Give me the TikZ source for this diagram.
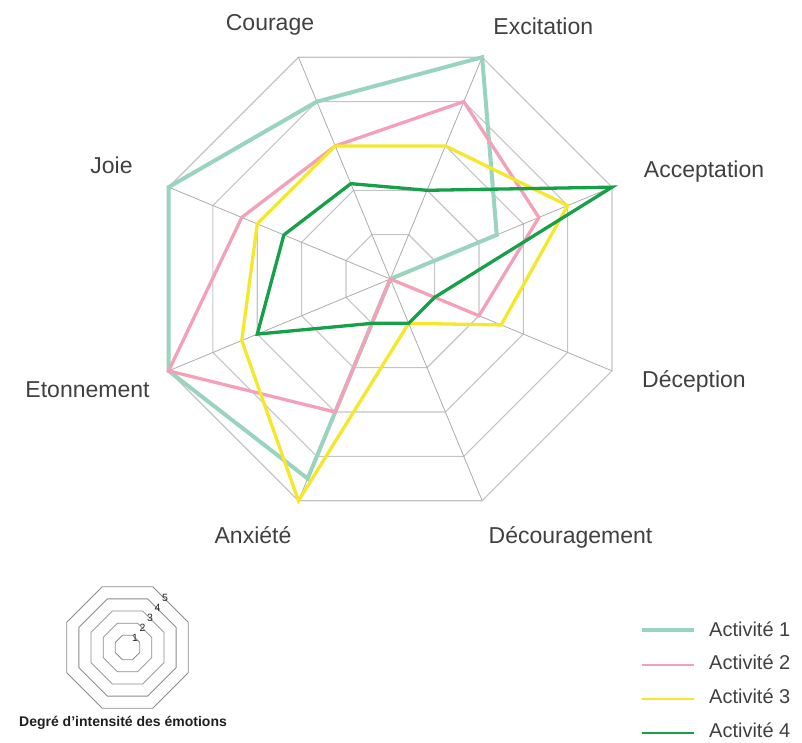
\documentclass[tikz,border=0pt]{standalone}
\usepackage{fontspec}
\setmainfont{Liberation Sans}
\definecolor{cA}{HTML}{98D4BE}
\definecolor{cB}{HTML}{F4A0B9}
\definecolor{cC}{HTML}{F5E72B}
\definecolor{cD}{HTML}{15A049}
\definecolor{labc}{HTML}{404040}
\definecolor{ringc}{HTML}{C4C4C4}
\definecolor{spokec}{HTML}{ACACAC}
\begin{document}
\begin{tikzpicture}[x=1pt,y=1pt,
  gridring/.style={draw=ringc, line width=1.1pt},
  gridspoke/.style={draw=spokec, line width=0.8pt},
  serie/.style={line width=3.3pt, line join=miter},
  lab/.style={font=\fontsize{23}{27}\selectfont, text=labc, inner sep=0pt, anchor=base},
  leglab/.style={font=\fontsize{20}{24}\selectfont, text=labc, inner sep=0pt, anchor=base west},
  iconring/.style={draw=black!45, line width=0.8pt},
  iconnum/.style={font=\fontsize{10.5}{11}\selectfont, text=black!85, inner sep=0pt},
]
\useasboundingbox (0,0) rectangle (802,742);
% ---------- main radar ----------
\begin{scope}[shift={(390.3,463)}]
  \foreach \k in {1,...,5}
    \draw[gridring] (22.5:{\k*48}) -- (67.5:{\k*48}) -- (112.5:{\k*48}) -- (157.5:{\k*48})
      -- (202.5:{\k*48}) -- (247.5:{\k*48}) -- (292.5:{\k*48}) -- (337.5:{\k*48}) -- cycle;
  \foreach \a in {22.5,67.5,...,337.5}
    \draw[gridspoke] (0,0) -- (\a:240);
  % Activite 1
  \draw[serie, draw=cA, line width=4pt] (112.5:{4*48}) -- (67.5:{5*48}) -- (22.5:{2.4*48})
     -- (0,0) -- (247.5:{4.5*48}) -- (202.5:{5*48}) -- (157.5:{5*48}) -- cycle;
  % Activite 2
  \draw[serie, draw=cB] (112.5:{3*48}) -- (67.5:{4*48}) -- (22.5:{3.35*48}) -- (337.5:{2*48})
     -- (0,0) -- (247.5:{3*48}) -- (202.5:{5*48}) -- (157.5:{3.35*48}) -- cycle;
  % Activite 3
  \draw[serie, draw=cC] (112.5:{3*48}) -- (67.5:{3*48}) -- (22.5:{4*48}) -- (337.5:{2.5*48})
     -- (292.5:{1*48}) -- (247.5:{5*48}) -- (202.5:{3.35*48}) -- (157.5:{3*48}) -- cycle;
  % Activite 4
  \draw[serie, draw=cD] (112.5:{2.15*48}) -- (67.5:{2*48}) -- (22.5:{5*48}) -- (337.5:{1*48})
     -- (292.5:{1*48}) -- (247.5:{1*48}) -- (202.5:{3*48}) -- (157.5:{2.4*48}) -- cycle;
\end{scope}
% ---------- axis labels ----------
\node[lab] (courage) at (270,711.7) {Courage};
\node[lab] (excitation) at (543.3,707.7) {Excitation};
\node[lab] (acceptation) at (704,564) {Acceptation};
\node[lab] (deception) at (694,354) {Déception};
\node[lab] (decouragement) at (570.5,199) {Découragement};
\node[lab] (anxiete) at (253,199) {Anxiété};
\node[lab] (etonnement) at (87.5,344.7) {Etonnement};
\node[lab] (joie) at (111.5,568.7) {Joie};
% ---------- intensity icon ----------
\begin{scope}[shift={(127.5,94.5)}]
  \foreach \k in {1,...,5}
    \draw[iconring] (22.5:{\k*13.16}) -- (67.5:{\k*13.16}) -- (112.5:{\k*13.16}) -- (157.5:{\k*13.16})
      -- (202.5:{\k*13.16}) -- (247.5:{\k*13.16}) -- (292.5:{\k*13.16}) -- (337.5:{\k*13.16}) -- cycle;
  \foreach \k in {1,...,5}
    \node[iconnum] (num\k) at (53:{\k*12.5}) {\k};
\end{scope}
\node[font=\bfseries\fontsize{14}{16}\selectfont, text=black!88, inner sep=0pt, anchor=base] (caption)
  at (123,15.3) {Degré d’intensité des émotions};
% ---------- legend ----------
\coordinate (l1a) at (641.7,112); \coordinate (l1b) at (694,112);
\coordinate (l2a) at (641.7,77);  \coordinate (l2b) at (694,77);
\coordinate (l3a) at (641.7,42.7); \coordinate (l3b) at (694,42.7);
\coordinate (l4a) at (641.7,8.7); \coordinate (l4b) at (694,8.7);
\draw[cA, line width=4pt] (l1a) -- (l1b);
\draw[cB, line width=2pt] (l2a) -- (l2b);
\draw[cC, line width=2pt] (l3a) -- (l3b);
\draw[cD, line width=2pt] (l4a) -- (l4b);
\node[leglab] (t1) at (709,105.3) {Activité 1};
\node[leglab] (t2) at (709,72.7) {Activité 2};
\node[leglab] (t3) at (709,38.7) {Activité 3};
\node[leglab] (t4) at (709,4.7) {Activité 4};
\end{tikzpicture}
\end{document}
